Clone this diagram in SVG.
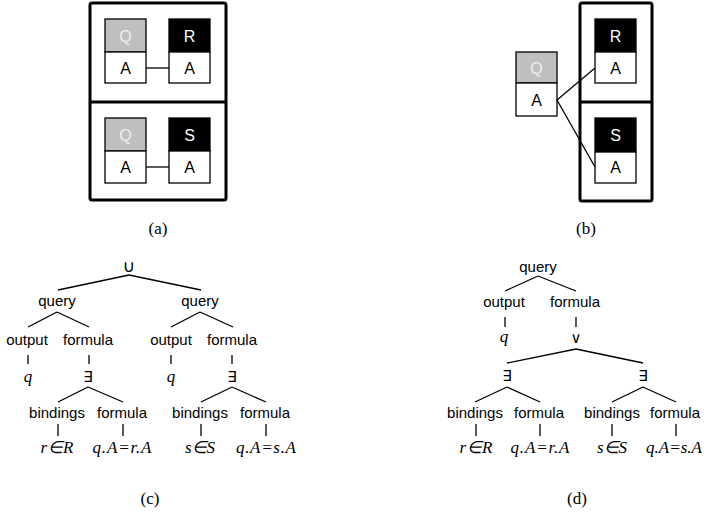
<svg xmlns="http://www.w3.org/2000/svg" width="704" height="517" viewBox="0 0 704 517">
<style>
.outer{fill:none;stroke:#000;stroke-width:3}
.cell{fill:#fff;stroke:#000;stroke-width:1.3}
.hq{fill:#bfbfbf;stroke:#000;stroke-width:1.3}
.hb{fill:#000;stroke:#000;stroke-width:1.3}
.bt{font-family:"Liberation Sans",Arial,sans-serif;font-size:16px;text-anchor:middle}
.tq{fill:#eeeeee}
.tw{fill:#fff}
.tk{fill:#000}
.ln{stroke:#000;stroke-width:1.3;fill:none}
.tn{font-family:"Liberation Sans",Arial,sans-serif;font-size:15px;text-anchor:middle;fill:#000}
.sym{font-family:"DejaVu Sans",sans-serif;font-size:15px;text-anchor:middle;fill:#000}
.m{font-family:"Liberation Serif","Times New Roman",serif;font-style:italic;font-size:17px;text-anchor:middle;fill:#000}
.cap{font-family:"Liberation Serif","Times New Roman",serif;font-size:17px;text-anchor:middle;fill:#000}
</style>

<!-- (a) -->
<g id="a-frame">
<rect class="outer" x="90" y="3" width="136" height="197" rx="2"/>
<line class="outer" x1="90" y1="102" x2="226" y2="102"/>
</g>
<g id="a-Q1">
<rect class="hq" x="105" y="19" width="41" height="33"/>
<rect class="cell" x="105" y="52" width="41" height="31"/>
<text class="bt tq" x="125.5" y="41.5">Q</text>
<text class="bt tk" x="125.5" y="73.5">A</text>
</g>
<g id="a-R">
<rect class="hb" x="169" y="19" width="41" height="33"/>
<rect class="cell" x="169" y="52" width="41" height="31"/>
<text class="bt tw" x="189.5" y="41.5">R</text>
<text class="bt tk" x="189.5" y="73.5">A</text>
</g>
<g id="a-Q2">
<rect class="hq" x="105" y="118" width="41" height="33"/>
<rect class="cell" x="105" y="151" width="41" height="32"/>
<text class="bt tq" x="125.5" y="140.5">Q</text>
<text class="bt tk" x="125.5" y="173">A</text>
</g>
<g id="a-S">
<rect class="hb" x="169" y="118" width="41" height="33"/>
<rect class="cell" x="169" y="151" width="41" height="32"/>
<text class="bt tw" x="189.5" y="140.5">S</text>
<text class="bt tk" x="189.5" y="173">A</text>
</g>

<!-- (b) -->
<g id="b-frame">
<rect class="outer" x="580" y="3" width="72" height="198" rx="2"/>
<line class="outer" x1="580" y1="102" x2="652" y2="102"/>
</g>
<g id="b-Q">
<rect class="hq" x="516" y="52" width="41" height="31"/>
<rect class="cell" x="516" y="83" width="41" height="33"/>
<text class="bt tq" x="536.5" y="73.5">Q</text>
<text class="bt tk" x="536.5" y="105.5">A</text>
</g>
<g id="b-R">
<rect class="hb" x="595" y="19" width="41" height="33"/>
<rect class="cell" x="595" y="52" width="41" height="31"/>
<text class="bt tw" x="615.5" y="41.5">R</text>
<text class="bt tk" x="615.5" y="73.5">A</text>
</g>
<g id="b-S">
<rect class="hb" x="595" y="118" width="41" height="34"/>
<rect class="cell" x="595" y="152" width="41" height="31"/>
<text class="bt tw" x="615.5" y="140.5">S</text>
<text class="bt tk" x="615.5" y="173">A</text>
</g>

<g id="connectors">
<line class="ln" x1="146" y1="68" x2="169" y2="68"/>
<line class="ln" x1="146" y1="167" x2="169" y2="167"/>
<line class="ln" x1="557" y1="100" x2="595" y2="68"/>
<line class="ln" x1="557" y1="100" x2="595" y2="167"/>
<!-- tree c -->
<line class="ln" x1="129" y1="275" x2="58" y2="290"/>
<line class="ln" x1="129" y1="275" x2="201" y2="290"/>
<line class="ln" x1="57" y1="312" x2="28" y2="327"/>
<line class="ln" x1="57" y1="312" x2="89" y2="327"/>
<line class="ln" x1="200" y1="312" x2="171" y2="327"/>
<line class="ln" x1="200" y1="312" x2="233" y2="327"/>
<line class="ln" x1="28" y1="355" x2="28" y2="364"/>
<line class="ln" x1="89" y1="355" x2="89" y2="364"/>
<line class="ln" x1="171" y1="355" x2="171" y2="364"/>
<line class="ln" x1="232" y1="355" x2="232" y2="364"/>
<line class="ln" x1="88" y1="387" x2="58" y2="402"/>
<line class="ln" x1="88" y1="387" x2="123" y2="402"/>
<line class="ln" x1="232" y1="387" x2="201" y2="402"/>
<line class="ln" x1="232" y1="387" x2="266" y2="402"/>
<line class="ln" x1="58" y1="424" x2="58" y2="436"/>
<line class="ln" x1="123" y1="424" x2="123" y2="436"/>
<line class="ln" x1="201" y1="424" x2="201" y2="436"/>
<line class="ln" x1="266" y1="424" x2="266" y2="436"/>
<!-- tree d -->
<line class="ln" x1="538" y1="276" x2="505" y2="291"/>
<line class="ln" x1="538" y1="276" x2="576" y2="291"/>
<line class="ln" x1="505" y1="317" x2="505" y2="327"/>
<line class="ln" x1="576" y1="317" x2="576" y2="327"/>
<line class="ln" x1="576" y1="349" x2="507" y2="363"/>
<line class="ln" x1="576" y1="349" x2="643" y2="363"/>
<line class="ln" x1="507" y1="387" x2="475" y2="402"/>
<line class="ln" x1="507" y1="387" x2="540" y2="402"/>
<line class="ln" x1="643" y1="387" x2="612" y2="402"/>
<line class="ln" x1="643" y1="387" x2="676" y2="402"/>
<line class="ln" x1="476" y1="424" x2="476" y2="436"/>
<line class="ln" x1="540" y1="424" x2="540" y2="436"/>
<line class="ln" x1="612" y1="424" x2="612" y2="436"/>
<line class="ln" x1="676" y1="424" x2="676" y2="436"/>
</g>

<!-- tree c nodes -->
<g id="c-union"><text class="sym" x="129" y="272" style="font-size:17px">∪</text></g>
<g id="c-query1"><text class="tn" x="57" y="306">query</text></g>
<g id="c-query2"><text class="tn" x="200" y="306">query</text></g>
<g id="c-output1"><text class="tn" x="27" y="345">output</text></g>
<g id="c-formula1"><text class="tn" x="88" y="345">formula</text></g>
<g id="c-output2"><text class="tn" x="171" y="345">output</text></g>
<g id="c-formula2"><text class="tn" x="232" y="345">formula</text></g>
<g id="c-q1"><text class="m" x="28" y="382">q</text></g>
<g id="c-ex1"><text class="sym" x="88" y="382">∃</text></g>
<g id="c-q2"><text class="m" x="171" y="382">q</text></g>
<g id="c-ex2"><text class="sym" x="232" y="382">∃</text></g>
<g id="c-bind1"><text class="tn" x="57" y="418">bindings</text></g>
<g id="c-form3"><text class="tn" x="122" y="418">formula</text></g>
<g id="c-bind2"><text class="tn" x="200" y="418">bindings</text></g>
<g id="c-form4"><text class="tn" x="265" y="418">formula</text></g>
<g id="c-rR"><text class="m" x="57" y="453" textLength="33" lengthAdjust="spacing">r∈R</text></g>
<g id="c-qr"><text class="m" x="122" y="453" textLength="59" lengthAdjust="spacing">q.A=r.A</text></g>
<g id="c-sS"><text class="m" x="200" y="453" textLength="30" lengthAdjust="spacing">s∈S</text></g>
<g id="c-qs"><text class="m" x="266" y="453" textLength="60" lengthAdjust="spacing">q.A=s.A</text></g>

<!-- tree d nodes -->
<g id="d-query"><text class="tn" x="538" y="272">query</text></g>
<g id="d-output"><text class="tn" x="504" y="307">output</text></g>
<g id="d-formula"><text class="tn" x="575" y="307">formula</text></g>
<g id="d-q"><text class="m" x="504" y="342">q</text></g>
<g id="d-or"><text class="sym" x="576" y="343">∨</text></g>
<g id="d-ex1"><text class="sym" x="507" y="381">∃</text></g>
<g id="d-ex2"><text class="sym" x="643" y="381">∃</text></g>
<g id="d-bind1"><text class="tn" x="475" y="418">bindings</text></g>
<g id="d-form1"><text class="tn" x="539" y="418">formula</text></g>
<g id="d-bind2"><text class="tn" x="612" y="418">bindings</text></g>
<g id="d-form2"><text class="tn" x="675" y="418">formula</text></g>
<g id="d-rR"><text class="m" x="476" y="453" textLength="33" lengthAdjust="spacing">r∈R</text></g>
<g id="d-qr"><text class="m" x="540" y="453" textLength="59" lengthAdjust="spacing">q.A=r.A</text></g>
<g id="d-sS"><text class="m" x="612" y="453" textLength="30" lengthAdjust="spacing">s∈S</text></g>
<g id="d-qs"><text class="m" x="674" y="453" textLength="56" lengthAdjust="spacing">q.A=s.A</text></g>

<!-- captions -->
<text class="cap" x="158" y="234">(a)</text>
<text class="cap" x="586" y="234">(b)</text>
<text class="cap" x="150" y="504">(c)</text>
<text class="cap" x="577" y="504">(d)</text>
</svg>
